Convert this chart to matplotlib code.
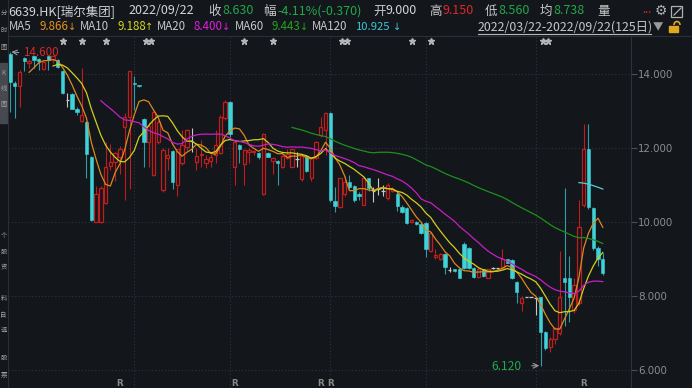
import numpy as np
import pandas as pd
import matplotlib
matplotlib.use('Agg')
import matplotlib.pyplot as plt
from matplotlib.patches import Rectangle, Arc
from matplotlib.lines import Line2D

plt.rcParams['font.family'] = ['Noto Sans CJK SC', 'DejaVu Sans']

# ---------------- data ----------------
opens = [14.54, 13.75, 13.67, 14.42, 14.30, 14.48, 14.40, 14.14, 14.48, 14.40,
         14.37, 14.07, 13.30, 13.45, 13.05, 12.72, 12.69, 11.75, 10.01, 10.01,
         10.51, 11.52, 11.63, 11.76, 12.58, 12.85, 13.77, 13.69, 12.78, 12.17,
         11.27, 12.17, 10.86, 11.74, 11.92, 11.00, 11.59, 12.02, 12.20, 11.63,
         11.80, 11.60, 11.65, 11.81, 11.87, 12.80, 13.25, 11.50, 12.08, 11.57,
         11.90, 11.88, 11.86, 10.75, 11.86, 11.65, 11.66, 11.48, 11.72, 11.50,
         11.70, 11.15, 11.78, 11.18, 11.72, 12.35, 12.49, 12.94, 10.58, 10.40,
         10.76, 11.09, 10.97, 10.75, 10.46, 11.18, 10.85, 10.90, 10.85, 10.64,
         10.85, 10.77, 10.41, 10.37, 10.00, 10.00, 9.95, 9.98, 9.23, 9.05,
         8.99, 9.14, 8.70, 8.72, 8.72, 9.41, 9.29, 8.75, 8.52, 8.72,
         8.50, 8.75, 8.75, 8.75, 8.99, 8.97, 8.39, 7.80, 7.97, 7.97,
         7.95, 7.96, 7.04, 6.61, 6.83, 6.99, 8.48, 8.48, 7.62, 7.80,
         10.46, 11.96, 10.37, 9.29, 9.00]
highs = [14.60, 13.80, 14.10, 14.45, 14.40, 14.50, 14.42, 14.35, 14.50, 14.52,
         14.40, 14.10, 13.50, 13.48, 13.12, 14.15, 12.72, 11.78, 10.96, 10.96,
         12.17, 12.10, 11.90, 12.05, 12.95, 14.07, 13.95, 13.70, 12.80, 12.70,
         13.00, 12.75, 12.00, 12.00, 11.95, 11.98, 12.50, 12.52, 12.54, 12.00,
         12.22, 11.80, 11.85, 12.49, 12.90, 13.30, 13.28, 12.20, 12.10, 11.98,
         12.00, 11.95, 11.90, 12.40, 11.90, 11.75, 11.68, 11.82, 11.96, 11.98,
         11.90, 11.80, 11.80, 11.75, 12.20, 12.85, 12.96, 12.96, 10.95, 11.20,
         11.23, 11.27, 11.00, 10.80, 11.20, 11.20, 10.95, 11.18, 11.00, 11.05,
         10.95, 10.80, 10.45, 10.40, 10.08, 10.02, 9.98, 10.00, 9.72, 9.27,
         9.16, 9.16, 8.78, 8.74, 8.75, 9.45, 9.32, 8.78, 8.75, 8.74,
         8.74, 8.78, 8.77, 9.26, 9.00, 9.00, 8.40, 8.00, 7.98, 7.98,
         7.97, 7.98, 7.06, 6.90, 7.15, 9.22, 10.91, 9.08, 8.50, 10.59,
         12.65, 12.65, 10.40, 9.35, 9.15]
lows = [12.98, 12.80, 13.10, 14.07, 14.15, 14.15, 14.10, 14.10, 14.10, 14.30,
        14.15, 13.45, 13.10, 13.05, 12.90, 12.70, 11.19, 10.02, 10.00, 9.98,
        10.50, 11.40, 11.10, 11.30, 10.60, 10.90, 13.03, 13.66, 11.50, 11.50,
        11.25, 12.10, 10.80, 11.40, 10.90, 10.70, 11.55, 11.95, 11.90, 11.40,
        11.50, 11.45, 11.50, 11.60, 11.85, 12.75, 12.30, 11.00, 11.60, 11.00,
        11.60, 11.80, 11.70, 10.73, 11.75, 11.30, 11.00, 11.45, 11.70, 11.48,
        11.48, 11.10, 11.35, 11.10, 11.70, 12.30, 11.81, 10.55, 10.28, 10.38,
        10.70, 10.90, 10.55, 10.60, 10.45, 10.85, 10.55, 10.73, 10.70, 10.60,
        10.80, 10.30, 10.25, 9.95, 9.98, 9.92, 9.68, 9.05, 9.20, 9.00,
        8.97, 8.60, 8.65, 8.66, 8.48, 8.72, 8.72, 8.50, 8.50, 8.52,
        8.48, 8.72, 8.73, 8.73, 8.88, 8.45, 7.81, 7.60, 7.96, 7.96,
        7.49, 6.12, 6.55, 6.50, 6.70, 6.95, 7.18, 7.30, 7.55, 7.75,
        10.40, 10.35, 9.25, 8.80, 8.56]
closes = [13.78, 13.68, 14.05, 14.36, 14.36, 14.39, 14.35, 14.33, 14.39, 14.48,
          14.20, 13.48, 13.30, 13.05, 12.98, 12.88, 11.83, 10.05, 10.77, 10.93,
          11.50, 11.61, 11.87, 11.96, 12.85, 14.07, 13.73, 13.68, 12.17, 12.60,
          12.98, 12.71, 11.95, 11.81, 11.09, 11.96, 12.08, 12.49, 12.20, 11.78,
          11.85, 11.70, 11.75, 12.08, 12.83, 13.25, 12.37, 12.17, 11.96, 11.95,
          11.95, 11.92, 11.77, 12.37, 11.77, 11.72, 11.60, 11.78, 11.85, 11.96,
          11.70, 11.78, 11.39, 11.72, 12.17, 12.56, 12.94, 10.59, 10.43, 11.18,
          11.09, 10.95, 10.59, 10.70, 11.18, 10.91, 10.85, 10.90, 10.85, 11.00,
          10.90, 10.42, 10.28, 9.98, 10.05, 9.95, 9.71, 9.26, 9.69, 9.10,
          9.14, 8.79, 8.70, 8.68, 8.50, 8.75, 8.75, 8.52, 8.72, 8.55,
          8.72, 8.75, 8.75, 8.99, 8.90, 8.48, 8.12, 7.94, 7.97, 7.97,
          7.95, 7.03, 6.59, 6.83, 7.13, 7.96, 8.39, 7.96, 8.30, 9.87,
          11.96, 10.40, 9.29, 9.00, 8.63]

ma_periods = [5, 10, 20, 60, 120]
ma_labels = ['MA5', 'MA10', 'MA20', 'MA60', 'MA120']
ma_values_text = ['9.866', '9.188', '8.400', '9.443', '10.925']
ma_arrows = ['\u2193', '\u2191', '\u2193', '\u2193', '\u2193']
month_start_idx = [26, 46, 67, 87, 110]
r_marks_idx = [23, 47, 65, 67, 120]
star_idx = [11, 15, 20, 29, 49, 55, 70, 84, 88, 112]
star_count = [1, 1, 1, 2, 1, 1, 2, 1, 1, 2]
y_ticks = [6, 8, 10, 12, 14]
max_idx, max_val = 0, 14.600
min_idx, min_val = 111, 6.120

# ---------------- style ----------------
W, H = 692, 388
bg = '#13161b'
up_col = '#c01e1e'
down_col = '#3fd2d8'
down_wick = '#2f9ea6'
flat_col = '#c8c8c8'
ma_cols = ['#d98a1c', '#cfcf1e', '#c81ec8', '#1e8f1e', '#5ccad6']
val_cols = ['#e8921e', '#d6d61e', '#e01ee0', '#22a422', '#3cc8d6']
lab_col = '#c8c8c8'
green_t = '#22a84a'
red_t = '#e0282a'
grid_col = '#30343c'

fig = plt.figure(figsize=(W / 100, H / 100), dpi=100, facecolor=bg)
ax = fig.add_axes([8 / W, 0, 623 / W, 352 / H], facecolor=bg)
ax.set_xlim(-0.418, 129.9)
ax.set_ylim(5.514, 15.027)

o = np.array(opens); h = np.array(highs); l = np.array(lows); c = np.array(closes)
x = np.arange(len(c))
up = c > o
dn = c < o
fl = c == o

# grid
for yv in y_ticks:
    ax.axhline(yv, color=grid_col, lw=0.8, ls=(0, (1, 2)), zorder=0)
for mi in month_start_idx:
    ax.axvline(mi, color=grid_col, lw=0.8, ls=(0, (1, 2)), zorder=0)

# wicks
ax.vlines(x[up], l[up], h[up], colors=up_col, lw=0.8, zorder=2)
ax.vlines(x[dn], l[dn], h[dn], colors=down_wick, lw=0.8, zorder=2)
ax.vlines(x[fl], l[fl], h[fl], colors=flat_col, lw=0.8, zorder=2)
# bodies
bw = 0.7
ax.bar(x[up], c[up] - o[up], bottom=o[up], width=bw, facecolor=bg,
       edgecolor=up_col, linewidth=0.9, zorder=2.5)
ax.bar(x[dn], o[dn] - c[dn], bottom=c[dn], width=bw, color=down_col,
       edgecolor=down_col, linewidth=0.4, zorder=2.5)
ax.hlines(c[fl], x[fl] - bw / 2, x[fl] + bw / 2, colors=flat_col, lw=0.9, zorder=2.5)

# moving averages
cs = pd.Series(c)
for p, col in zip(ma_periods, ma_cols):
    ax.plot(x, cs.rolling(p).mean(), color=col, lw=0.9, zorder=3)

# axes style
for s in ['top', 'left', 'bottom']:
    ax.spines[s].set_visible(False)
ax.spines['right'].set_color('#2e323a')
ax.set_xticks([])
ax.yaxis.tick_right()
ax.set_yticks(y_ticks)
ax.set_yticklabels([f'{v:.3f}' for v in y_ticks], fontfamily='DejaVu Sans')
ax.tick_params(axis='y', length=4, color='#4a4e56', labelcolor='#8c8c8c',
               labelsize=7.4, pad=1.0)

# stars
xt = ax.get_xaxis_transform()
for si, sc in zip(star_idx, star_count):
    pos = [si] if sc == 1 else [si - 0.45, si + 0.45]
    ax.plot(pos, [0.986] * len(pos), ls='none', marker='*', ms=5,
            color='#b4b4b4', mec='#b4b4b4', transform=xt, clip_on=False, zorder=4)
# R marks
for ri in r_marks_idx:
    ax.text(ri, 0.014, 'R', transform=xt, ha='center', va='center',
            fontsize=6.3, color='#8a8a8a', fontweight='bold', fontfamily='DejaVu Sans')

# max / min annotations
ax.annotate(f'{max_val:.3f}', xy=(max_idx, max_val), xycoords='data',
            xytext=(23, H - 53), textcoords='figure pixels', ha='left', va='center',
            fontsize=8.4, color='#d42a2a',
            arrowprops=dict(arrowstyle='->', color='#9a9a9a', lw=0.8,
                            relpos=(0, 0.5), shrinkA=1, shrinkB=1))
ax.annotate(f'{min_val:.3f}', xy=(min_idx, min_val), xycoords='data',
            xytext=(522, H - 366), textcoords='figure pixels', ha='right', va='center',
            fontsize=8.7, color=green_t,
            arrowprops=dict(arrowstyle='->', color='#9a9a9a', lw=0.8,
                            relpos=(1, 0.5), shrinkA=5, shrinkB=1))

# ---------------- header ----------------
def ft(xp, yp, s, col, size=9, ha='left', **kw):
    fig.text(xp / W, 1 - yp / H, s, ha=ha, va='center', color=col, fontsize=size, **kw)

y1 = 11
ft(8, y1, '6639.HK[瑞尔集团]', '#d4d4d4')
ft(128, y1, '2022/09/22', '#d4d4d4')
ft(208, y1, '收', lab_col)
ft(222, y1, '8.630', green_t)
ft(263, y1, '幅', lab_col)
ft(277, y1, '-4.11%(-0.370)', green_t)
ft(373, y1, '开', lab_col)
ft(386, y1, '9.000', '#d4d4d4')
ft(429, y1, '高', lab_col)
ft(442, y1, '9.150', red_t)
ft(485, y1, '低', lab_col)
ft(498, y1, '8.560', green_t)
ft(540, y1, '均', lab_col)
ft(553, y1, '8.738', green_t)
ft(597, y1, '量', lab_col)
ft(642, y1 - 1, '...', red_t, size=8)
fig.text(661 / W, 1 - 11 / H, '\u2699', ha='center', va='center', color='#b0b0b0',
         fontsize=10, fontfamily='DejaVu Sans')
fig.add_artist(Rectangle((671 / W, 1 - 17 / H), 11 / W, 11 / H, fill=False,
                         ec='#b0b0b0', lw=0.9, transform=fig.transFigure))
fig.add_artist(Line2D([674 / W, 681 / W], [1 - 15 / H, 1 - 8 / H], color='#b0b0b0',
                      lw=0.9, transform=fig.transFigure))

y2 = 27
ma_x = [(9, 39, 72), (80, 117, 149), (157, 193, 226), (235, 272, 304), (312, 356, 397)]
for (lx, vx, arx), lab, vt, arw, col in zip(ma_x, ma_labels, ma_values_text, ma_arrows, val_cols):
    ft(lx, y2, lab, lab_col, size=8.3)
    ft(vx, y2, vt, col, size=8.1 if len(vt) > 5 else 8.3)
    ft(arx, y2, arw, col, size=7.0, ha='center', family='DejaVu Sans')
ft(478, y2, '2022/03/22-2022/09/22(125日)', '#c8c8c8', size=8.9)
fig.add_artist(Line2D([478 / W, 651 / W], [1 - 33.5 / H] * 2, color='#b8b8b8', lw=0.8,
                      transform=fig.transFigure))
ft(653, y2, '\u25bc', '#9a9a9a', size=7.5)
fig.add_artist(Rectangle((669 / W, 1 - 32 / H), 9 / W, 6 / H, color='#e0a81e',
                         transform=fig.transFigure))
fig.add_artist(Arc((677 / W, 1 - 25 / H), 6 / W, 7 / H, theta1=0, theta2=180,
                   color='#e0a81e', lw=1.2, transform=fig.transFigure))

# separators
fig.add_artist(Line2D([8 / W, 1], [1 - 36 / H] * 2, color='#2a2e36', lw=0.8,
                      transform=fig.transFigure))
fig.add_artist(Line2D([7.5 / W] * 2, [0, 1], color='#2a2d33', lw=0.8,
                      transform=fig.transFigure))

# left strip (narrow tab column)
fig.add_artist(Rectangle((0, 1 - 123 / H), 7 / W, 60 / H, color='#46494f',
                         transform=fig.transFigure, zorder=0))
left_chars = [(13, '分'), (30, '时'), (47, '图'), (73, 'K'), (88, '线'), (104, '图'),
              (235, '个'), (252, '股'), (267, '资'), (298, '料'), (315, '自'),
              (330, '选'), (358, '股'), (375, '票')]
for yp, ch in left_chars:
    fig.text(3.6 / W, 1 - yp / H, ch, ha='center', va='center', color='#a0a0a0', fontsize=4.6)

fig.savefig('out.png', dpi=100, facecolor=bg)
